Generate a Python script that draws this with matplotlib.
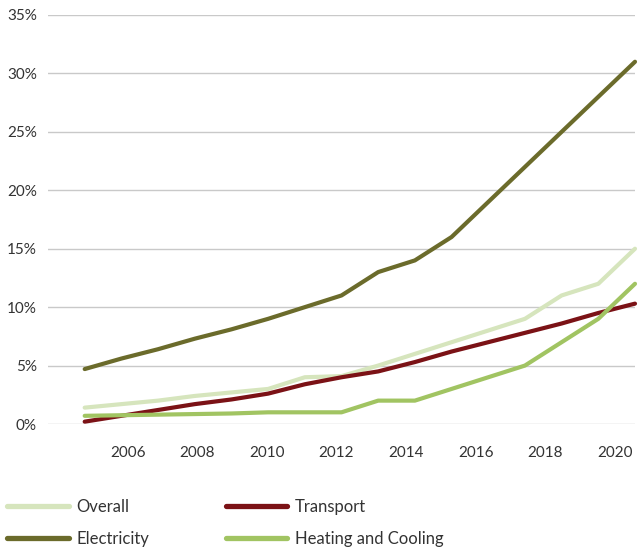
import matplotlib
matplotlib.use("Agg")
import matplotlib.pyplot as plt
import numpy as np

plt.rcParams["font.family"] = ["Lato", "DejaVu Sans"]

years = np.arange(2005, 2021)

# renewable shares in %, per sector
overall = [1.4, 1.7, 2.0, 2.4, 2.7, 3.0, 4.0, 4.1, 5.0, 6.0, 7.0, 8.0, 9.0, 11.0, 12.0, 15.0]
electricity = [4.7, 5.6, 6.4, 7.3, 8.1, 9.0, 10.0, 11.0, 13.0, 14.0, 16.0, 19.0, 22.0, 25.0, 28.0, 31.0]
transport = [0.2, 0.7, 1.2, 1.7, 2.1, 2.6, 3.4, 4.0, 4.5, 5.3, 6.2, 7.0, 7.8, 8.6, 9.5, 10.3]
heating = [0.7, 0.75, 0.8, 0.85, 0.9, 1.0, 1.0, 1.0, 2.0, 2.0, 3.0, 4.0, 5.0, 7.0, 9.0, 12.0]

tick_labels = ["2006", "2008", "2010", "2012", "2014", "2016", "2018", "2020"]
y_ticks = [0, 5, 10, 15, 20, 25, 30, 35]

c_overall = "#d6e5bd"
c_elec = "#6b6b2b"
c_trans = "#7b1216"
c_heat = "#a1c462"

fig = plt.figure(figsize=(6.38, 5.51), dpi=100)
ax = fig.add_axes([48 / 638, 127 / 551, 587 / 638, 409 / 551])

lw = 3.0
style = dict(lw=lw, solid_capstyle="round", solid_joinstyle="round", clip_on=False)
l1, = ax.plot(years, overall, color=c_overall, label="Overall", **style)
l2, = ax.plot(years, electricity, color=c_elec, label="Electricity", **style)
l3, = ax.plot(years, transport, color=c_trans, label="Transport", **style)
l4, = ax.plot(years, heating, color=c_heat, label="Heating and Cooling", **style)

ax.set_xlim(2004, 2020)
ax.set_ylim(0, 35)
ax.set_yticks(y_ticks)
ax.set_yticklabels([f"{v}%" for v in y_ticks])
ax.set_xticks(np.linspace(2006.17, 2019.45, len(tick_labels)))
ax.set_xticklabels(tick_labels)
ax.yaxis.grid(True, color="#c9c9c9", lw=1.0)
ax.set_axisbelow(True)
ax.tick_params(axis="both", length=0, labelsize=11, colors="#333333")
ax.tick_params(axis="y", pad=8)
ax.tick_params(axis="x", pad=15.5)
for s in ax.spines.values():
    s.set_visible(False)

fig.legend(handles=[l1, l2, l3, l4], loc="upper left",
           bbox_to_anchor=(7 / 638, 1 - 499 / 551), ncol=2, frameon=False,
           fontsize=12, handlelength=3.7, handletextpad=0.45,
           columnspacing=4.6, labelspacing=0.95, borderpad=0,
           borderaxespad=0, labelcolor="#333333")
for h in fig.legends[0].legend_handles:
    h.set_linewidth(3.8)

fig.savefig("out.png", dpi=100)
